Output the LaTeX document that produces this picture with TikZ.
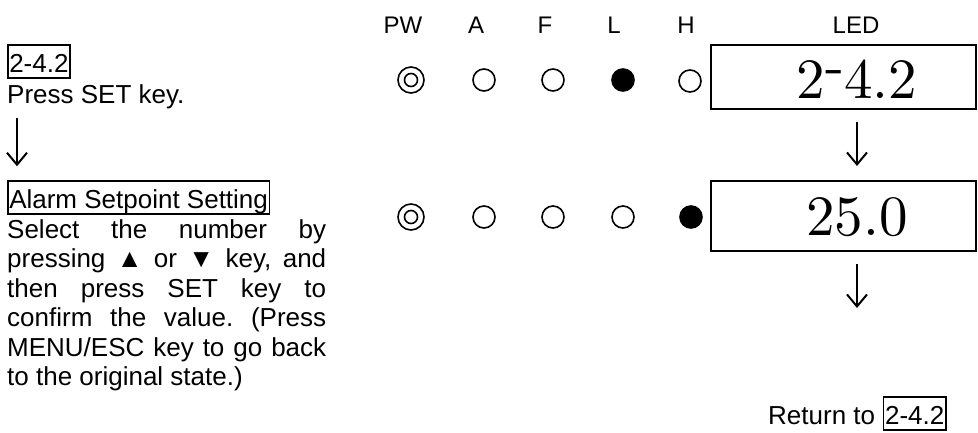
\documentclass[tikz,border=0pt]{standalone}
\usepackage{fontspec}
\setmainfont{Liberation Sans}
\newfontfamily\ledfont{lmroman10-regular.otf}
\usetikzlibrary{arrows.meta}
\frenchspacing
\tikzset{
  body/.style={font=\fontsize{26}{29.5}\selectfont, inner sep=0pt},
  head/.style={font=\fontsize{24}{28}\selectfont, inner sep=0pt, anchor=base},
  tag/.style={draw, line width=1.5pt, font=\fontsize{26}{29.5}\selectfont,
    inner xsep=1.5pt, inner ysep=3pt, text height=24pt, text depth=3pt},
  ledbox/.style={draw, line width=2pt, minimum width=265pt, inner sep=0pt},
  ledtext/.style={font=\ledfont\fontsize{57}{60}\selectfont, inner sep=0pt, anchor=base},
  lamp/.style={circle, draw, line width=1.6pt, minimum size=22pt, inner sep=0pt},
  lampon/.style={lamp, fill=black},
  pwlamp/.style={circle, draw, line width=1.6pt, minimum size=26pt, inner sep=0pt},
  arr/.style={line width=2pt, -{Straight Barb[length=12pt,width=20pt,line width=2pt]}}
}
\begin{document}
\begin{tikzpicture}[x=1pt,y=-1pt]
\useasboundingbox (0,0) rectangle (978,432);

% left column
\node[tag, anchor=base west] (t1) at (7,72) {2-4.2};
\node[body, anchor=base west] (press) at (7,103) {Press SET key.};
\node[tag, anchor=base west] (alarm) at (7,208) {Alarm Setpoint Setting};
\node[body, anchor=base west] (para) at (7,238) {\parbox[t]{319pt}{\setlength{\parindent}{0pt}\frenchspacing%
\makebox[319pt][s]{Select the number by}\\
\makebox[319pt][s]{pressing ▲ or ▼ key, and}\\
\makebox[319pt][s]{then press SET key to}\\
\makebox[319pt][s]{confirm the value. (Press}\\
\makebox[319pt][s]{MENU/ESC key to go back}\\
to the original state.)}};
\coordinate (lx) at (17,0);
\draw[arr, shorten <=9pt, shorten >=14pt] (lx |- press.south) -- (lx |- alarm.north);

% headers
\node[head] (hpw) at (403,33) {PW};
\node[head] (ha) at (476,33) {A};
\node[head] (hf) at (545,33) {F};
\node[head] (hl) at (614,33) {L};
\node[head] (hh) at (686,33) {H};
\node[head] (hled) at (856,33) {LED};

% row 1
\node[pwlamp] (pw1) at (411,80) {};
\draw[line width=1.6pt] (pw1.center) circle (6.5);
\node[lamp] (a1) at (484,80) {};
\node[lamp] (f1) at (553,80) {};
\node[lampon] (l1) at (623,80) {};
\node[lamp] (h1) at (690,81) {};
\node[ledbox, minimum height=64pt] (led1) at (843.5,77) {};
\node[ledtext] (v1) at (857,98) {2\raisebox{0.24em}{-}4.2};

% row 2
\node[pwlamp] (pw2) at (411,217) {};
\draw[line width=1.6pt] (pw2.center) circle (6.5);
\node[lamp] (a2) at (484,217) {};
\node[lamp] (f2) at (553,217) {};
\node[lamp] (l2) at (623,217) {};
\node[lampon] (h2) at (691,217) {};
\node[ledbox, minimum height=70pt] (led2) at (843.5,216) {};
\node[ledtext] (v2) at (857,235) {25.0};

% arrows
\draw[arr, shorten <=12pt, shorten >=14pt] (v1 |- led1.south) -- (v1 |- led2.north);
\coordinate (a2end) at (857,308);
\draw[arr, shorten <=12pt] (v2 |- led2.south) -- (a2end);

% return
\node[body, anchor=base west] (ret) at (768,424) {Return to};
\node[tag, anchor=base west] (rettag) at ([xshift=7.5pt]ret.base east) {2-4.2};
\end{tikzpicture}
\end{document}
